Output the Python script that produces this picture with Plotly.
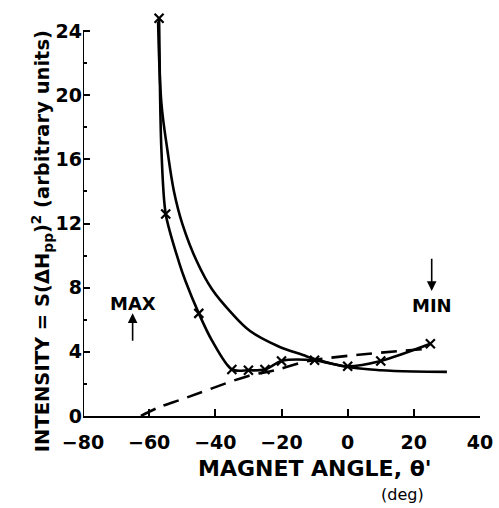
import plotly.graph_objects as go

# measured points (x markers)
meas_angle = [-57, -55, -45, -35, -30, -25, -20, -10, 0, 10, 25]
meas_int = [24.8, 12.6, 6.4, 2.9, 2.85, 2.9, 3.43, 3.47, 3.1, 3.43, 4.5]

meas_curve_angle = [-57, -56.7, -56.3, -55, -51, -49, -45, -41, -35, -30, -25, -20, -10, 0, 10, 25]
meas_curve_int = [24.8, 20.0, 16.6, 12.6, 9.6, 8.4, 6.4, 4.7, 2.9, 2.85, 2.9, 3.43, 3.47, 3.1, 3.43, 4.5]

# smooth solid curve
solid_angle = [-57.3, -56.3, -54.5, -52.5, -50, -45.5, -41, -35, -29.5, -21, -13.5, -10, 0, 10, 20, 30]
solid_int = [24.6, 19.5, 16.6, 14.0, 12.0, 9.6, 7.9, 6.4, 5.3, 4.35, 3.8, 3.55, 3.05, 2.85, 2.77, 2.75]

# dashed curve
dash_angle = [-62.5, -57, -50, -42, -30, -22, -13.5, -10, 0, 10, 25]
dash_int = [0.0, 0.55, 1.05, 1.65, 2.5, 2.85, 3.35, 3.5, 3.75, 3.95, 4.2]

x_ticks = [-80, -60, -40, -20, 0, 20, 40]
y_ticks = [0, 4, 8, 12, 16, 20, 24]

FONT = "DejaVu Sans"
fig = go.Figure()
fig.add_trace(go.Scatter(x=solid_angle, y=solid_int, mode="lines",
                         line=dict(color="black", width=2.6, shape="spline", smoothing=1),
                         showlegend=False))
fig.add_trace(go.Scatter(x=dash_angle, y=dash_int, mode="lines",
                         line=dict(color="black", width=2.6, dash="16px,9px", shape="spline", smoothing=1),
                         showlegend=False))
fig.add_trace(go.Scatter(x=meas_curve_angle, y=meas_curve_int, mode="lines",
                         line=dict(color="black", width=2.6, shape="spline", smoothing=0.8),
                         showlegend=False))
fig.add_trace(go.Scatter(x=meas_angle, y=meas_int, mode="markers",
                         marker=dict(symbol="x-thin", size=9, line=dict(color="black", width=2.2)),
                         showlegend=False, cliponaxis=False))

fig.add_shape(type="line", xref="x", yref="y", x0=-80, x1=-80, y0=0, y1=24,
              line=dict(color="black", width=2))

fig.update_xaxes(range=[-80, 40], tickvals=x_ticks, ticks="inside", ticklen=7, tickwidth=2,
                 tickcolor="black", showline=True, linecolor="black", linewidth=2,
                 showgrid=False, zeroline=False, ticklabelstandoff=8,
                 tickfont=dict(family=FONT, size=19, color="black", weight="bold"))
fig.update_yaxes(range=[0, 25.5], tickvals=y_ticks, ticks="inside", ticklen=7, tickwidth=2,
                 tickcolor="black", showline=False, showgrid=False, zeroline=False,
                 minor=dict(tickvals=[2, 6, 10, 14, 18, 22], ticks="inside", ticklen=4,
                            tickwidth=1.5, tickcolor="black"),
                 tickfont=dict(family=FONT, size=19, color="black", weight="bold"))

ann = [
    dict(text="<b>INTENSITY = S(ΔH<sub>pp</sub>)<sup>2</sup> (arbitrary units)</b>",
         xref="paper", x=0, xshift=-57, yref="y", y=10.9, textangle=-90,
         showarrow=False, font=dict(family=FONT, size=19.5, color="black")),
    dict(text="<b>MAGNET ANGLE, θ'</b>", xref="x", x=-10, yref="paper", y=0, yshift=-52,
         yanchor="middle", showarrow=False, font=dict(family=FONT, size=22, color="black")),
    dict(text="(deg)", xref="x", x=16.7, yref="paper", y=0, yshift=-78,
         yanchor="middle", showarrow=False, font=dict(family=FONT, size=16, color="black")),
    dict(text="<b>MAX</b>", x=-65, y=7.0, showarrow=False,
         font=dict(family=FONT, size=18, color="black")),
    dict(text="<b>MIN</b>", x=25.4, y=6.9, showarrow=False,
         font=dict(family=FONT, size=18, color="black")),
    dict(text="", x=-65, y=6.4, ax=-65, ay=4.6, axref="x", ayref="y", showarrow=True,
         arrowhead=2, arrowwidth=1.6, arrowsize=1.2, arrowcolor="black"),
    dict(text="", x=25.4, y=7.8, ax=25.4, ay=9.9, axref="x", ayref="y", showarrow=True,
         arrowhead=2, arrowwidth=1.6, arrowsize=1.2, arrowcolor="black"),
]
fig.update_layout(width=499, height=508, margin=dict(l=83, r=19, t=7, b=92),
                  plot_bgcolor="white", paper_bgcolor="white", annotations=ann)
fig.write_html("out.html")
